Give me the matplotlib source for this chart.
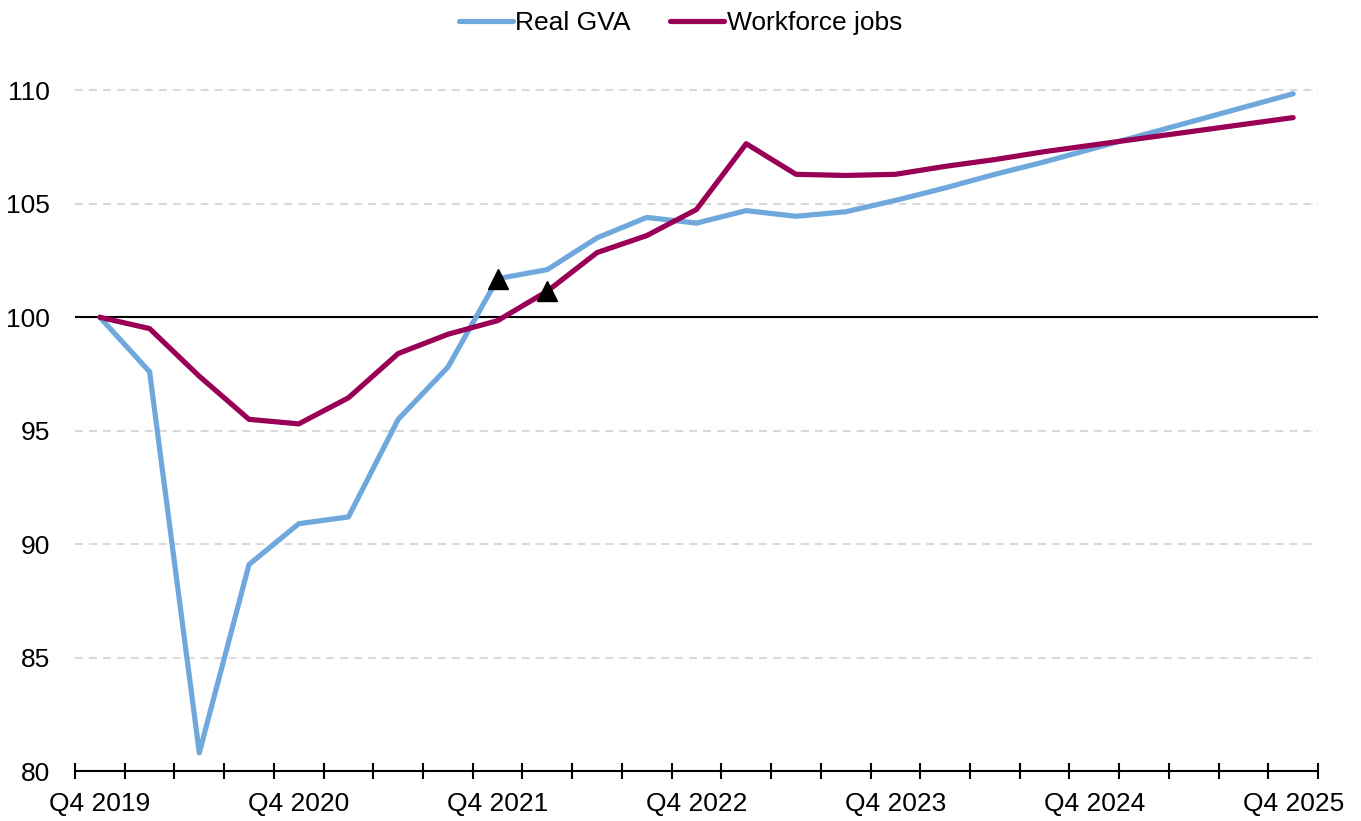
import matplotlib.pyplot as plt
import numpy as np

# quarters Q4 2019 .. Q4 2025
quarters = ['Q4 2019', 'Q1 2020', 'Q2 2020', 'Q3 2020', 'Q4 2020', 'Q1 2021', 'Q2 2021',
            'Q3 2021', 'Q4 2021', 'Q1 2022', 'Q2 2022', 'Q3 2022', 'Q4 2022', 'Q1 2023',
            'Q2 2023', 'Q3 2023', 'Q4 2023', 'Q1 2024', 'Q2 2024', 'Q3 2024', 'Q4 2024',
            'Q1 2025', 'Q2 2025', 'Q3 2025', 'Q4 2025']

real_gva = [100.0, 97.6, 80.8, 89.1, 90.9, 91.2, 95.5, 97.8, 101.7, 102.1, 103.5, 104.4,
            104.15, 104.7, 104.45, 104.65, 105.15, 105.7, 106.3, 106.85, 107.45, 108.05,
            108.65, 109.25, 109.85]
workforce_jobs = [100.0, 99.5, 97.4, 95.5, 95.3, 96.45, 98.4, 99.25, 99.85, 101.15, 102.85,
                  103.6, 104.75, 107.65, 106.3, 106.25, 106.3, 106.65, 106.95, 107.3, 107.6,
                  107.9, 108.2, 108.5, 108.8]

# triangle markers (index into quarters)
gva_marker = 8
jobs_marker = 9

gva_col = '#6FA8DC'
jobs_col = '#990055'

plt.rcParams['font.family'] = ['Liberation Sans', 'DejaVu Sans']

fig = plt.figure(figsize=(13.61, 8.21), dpi=100)
ax = fig.add_axes([75 / 1361, 1 - 771 / 821, (1318 - 75) / 1361, (771 - 45) / 821])

x = np.arange(len(quarters))
ax.plot(x, real_gva, color=gva_col, lw=3.75, label='Real GVA', solid_capstyle='round',
        solid_joinstyle='round', zorder=3)
ax.plot(x, workforce_jobs, color=jobs_col, lw=3.75, label='Workforce jobs', solid_capstyle='round',
        solid_joinstyle='round', zorder=3)
ax.plot(x[gva_marker], real_gva[gva_marker], marker='^', color='black', ms=15, zorder=4)
ax.plot(x[jobs_marker], workforce_jobs[jobs_marker], marker='^', color='black', ms=15, zorder=4)

for yv in [85, 90, 95, 105, 110]:
    ax.axhline(yv, color='#D9D9D9', lw=1.5, ls=(0, (3.8, 2.9)), zorder=1)
ax.axhline(100, color='black', lw=1.5, zorder=2)

ax.set_xlim(-0.5, len(quarters) - 0.5)
ax.set_ylim(80, 112)
ax.set_yticks([80, 85, 90, 95, 100, 105, 110])
ax.tick_params(axis='y', length=0, labelsize=19, pad=18)

ax.set_xticks(x[::4])
ax.set_xticklabels(quarters[::4])
ax.set_xticks(np.arange(-0.5, len(quarters)), minor=True)
ax.tick_params(axis='x', which='major', length=0, labelsize=19, pad=15)
ax.tick_params(axis='x', which='minor', direction='inout', length=12, width=1.5)

for s in ['top', 'right', 'left']:
    ax.spines[s].set_visible(False)
ax.spines['bottom'].set_linewidth(1.5)

fig.legend(loc='upper center', bbox_to_anchor=(0.5, 1.015), ncol=2, frameon=False,
           fontsize=19, handlelength=2.05, handletextpad=0.1, columnspacing=1.5)

fig.savefig('out.png', dpi=100)
